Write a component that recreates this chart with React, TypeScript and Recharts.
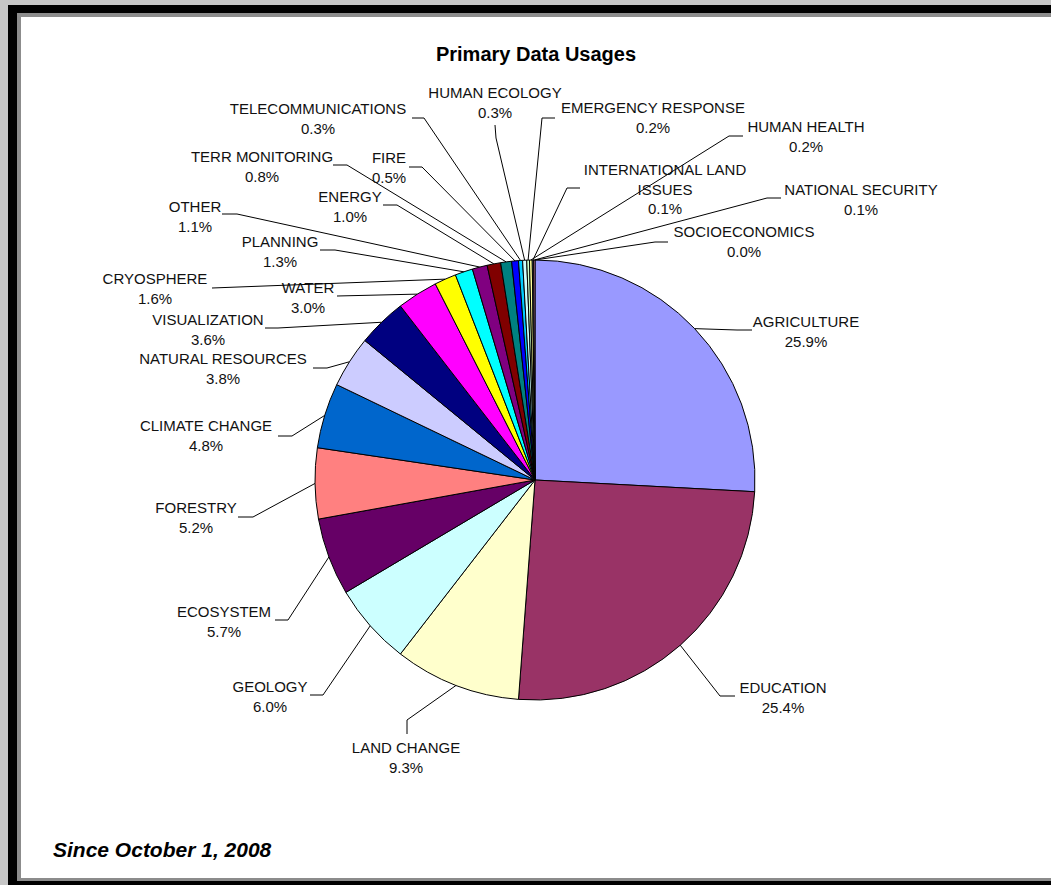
import React from 'react';
import { PieChart, Pie, Cell } from 'recharts';

const CATEGORIES = [
  'AGRICULTURE', 'EDUCATION', 'LAND CHANGE', 'GEOLOGY', 'ECOSYSTEM', 'FORESTRY',
  'CLIMATE CHANGE', 'NATURAL RESOURCES', 'VISUALIZATION', 'WATER', 'CRYOSPHERE',
  'PLANNING', 'OTHER', 'ENERGY', 'TERR MONITORING', 'FIRE', 'TELECOMMUNICATIONS',
  'HUMAN ECOLOGY', 'EMERGENCY RESPONSE', 'HUMAN HEALTH', 'INTERNATIONAL LAND ISSUES',
  'NATIONAL SECURITY', 'SOCIOECONOMICS',
];

const SHARES = [
  25.9, 25.4, 9.3, 6.0, 5.7, 5.2, 4.8, 3.8, 3.6, 3.0, 1.6, 1.3, 1.1, 1.0, 0.8, 0.5,
  0.3, 0.3, 0.2, 0.2, 0.1, 0.1, 0.0,
];

const COLORS = [
  '#9999FF', '#993366', '#FFFFCC', '#CCFFFF', '#660066', '#FF8080', '#0066CC',
  '#CCCCFF', '#000080', '#FF00FF', '#FFFF00', '#00FFFF', '#800080', '#800000',
  '#008080', '#0000FF', '#00CCFF', '#CCFFFF', '#CCFFCC', '#FFFF99', '#99CCFF',
  '#FF99CC', '#CC99FF',
];

const TITLE = 'Primary Data Usages';
const FOOTNOTE = 'Since October 1, 2008';

// label placement (text centre / first baseline, leader elbow, leader end) — layout only
const LABEL_LAYOUT = [
  { tx: 806, ty: 327, kx: 737, ky: 330, ex: 752, ey: 330 },
  { tx: 783, ty: 693, kx: 720, ky: 696, ex: 735, ey: 696 },
  { tx: 406, ty: 753, kx: 407, ky: 720, ex: 407, ey: 734 },
  { tx: 270, ty: 692, kx: 323, ky: 695, ex: 310, ey: 695 },
  { tx: 224, ty: 617, kx: 288, ky: 620, ex: 275, ey: 620 },
  { tx: 196, ty: 513, kx: 253, ky: 517, ex: 238, ey: 517 },
  { tx: 206, ty: 431, kx: 292, ky: 436, ex: 278, ey: 436 },
  { tx: 223, ty: 364, kx: 327, ky: 368, ex: 313, ey: 368 },
  { tx: 208, ty: 325, kx: 278, ky: 328, ex: 265, ey: 328 },
  { tx: 308, ty: 293, kx: 337, ky: 296, ex: 337, ey: 296 },
  { tx: 155, ty: 284, kx: 212, ky: 288, ex: 212, ey: 288 },
  { tx: 280, ty: 247, kx: 335, ky: 250, ex: 320, ey: 250 },
  { tx: 195, ty: 212, kx: 237, ky: 214, ex: 222, ey: 214 },
  { tx: 350, ty: 202, kx: 397, ky: 205, ex: 383, ey: 205 },
  { tx: 262, ty: 162, kx: 347, ky: 165, ex: 333, ey: 165 },
  { tx: 389, ty: 163, kx: 422, ky: 167, ex: 409, ey: 167 },
  { tx: 318, ty: 114, kx: 424, ky: 118, ex: 412, ey: 118 },
  { tx: 495, ty: 98, kx: 496, ky: 138, ex: 495, ey: 125 },
  { tx: 653, ty: 113, kx: 542, ky: 118, ex: 555, ey: 118 },
  { tx: 806, ty: 132, kx: 729, ky: 136, ex: 743, ey: 136 },
  { tx: 665, ty: 175, kx: 567, ky: 188, ex: 580, ey: 188 },
  { tx: 861, ty: 195, kx: 767, ky: 198, ex: 781, ey: 198 },
  { tx: 744, ty: 237, kx: 655, ky: 242, ex: 668, ey: 242 },
];

const data = CATEGORIES.map((name, i) => ({ name, value: SHARES[i] }));

const FONT = '"Liberation Sans", Arial, sans-serif';
const RAD = Math.PI / 180;

const renderLabel = (props: any) => {
  const { cx, cy, midAngle, outerRadius, index, name, value } = props;
  const L = LABEL_LAYOUT[index];
  if (!L) return null;
  const sx = cx + outerRadius * Math.cos(-midAngle * RAD);
  const sy = cy + outerRadius * Math.sin(-midAngle * RAD);
  const words = String(name).split(' ');
  const lines = String(name).length > 20
    ? [words.slice(0, 2).join(' '), words.slice(2).join(' ')]
    : [String(name)];
  lines.push(`${Number(value).toFixed(1)}%`);
  return (
    <g key={`lbl-${index}`}>
      <polyline
        points={`${sx},${sy} ${L.kx},${L.ky} ${L.ex},${L.ey}`}
        fill="none"
        stroke="#000"
        strokeWidth={1}
      />
      <text
        x={L.tx}
        y={L.ty}
        textAnchor="middle"
        fontFamily={FONT}
        fontSize={15}
        fill="#111"
      >
        {lines.map((t, j) => (
          <tspan key={j} x={L.tx} dy={j === 0 ? 0 : 19.5}>{t}</tspan>
        ))}
      </text>
    </g>
  );
};

export default function App() {
  return (
    <div style={{ position: 'absolute', left: 0, top: 0, width: 1051, height: 885, background: '#c6c6c6', overflow: 'hidden' }}>
      <div style={{ position: 'absolute', left: 8, top: 5, width: 1043, height: 880, background: '#000' }} />
      <div style={{ position: 'absolute', left: 17, top: 13, width: 1034, height: 868, background: '#8c8c8c' }} />
      <div style={{ position: 'absolute', left: 21, top: 17, width: 1030, height: 861, background: '#fff' }} />
      <div style={{ position: 'absolute', left: 0, top: 0 }}>
        <PieChart width={1051} height={885} margin={{ top: 0, right: 0, bottom: 0, left: 0 }}>
          <Pie
            data={data}
            dataKey="value"
            nameKey="name"
            cx={535}
            cy={480}
            outerRadius={220}
            innerRadius={0}
            startAngle={90}
            endAngle={-270}
            stroke="#000"
            strokeWidth={1}
            label={renderLabel}
            labelLine={false}
            isAnimationActive={false}
          >
            {data.map((d, i) => (
              <Cell key={d.name} fill={COLORS[i]} stroke="#000" strokeWidth={1} />
            ))}
          </Pie>
        </PieChart>
      </div>
      <svg width={1051} height={885} style={{ position: 'absolute', left: 0, top: 0, pointerEvents: 'none' }}>
        <text x={536} y={61} textAnchor="middle" fontFamily={FONT} fontWeight="bold" fontSize={20} fill="#000">{TITLE}</text>
        <text x={53} y={857} fontFamily={FONT} fontWeight="bold" fontStyle="italic" fontSize={21} fill="#000">{FOOTNOTE}</text>
      </svg>
    </div>
  );
}
